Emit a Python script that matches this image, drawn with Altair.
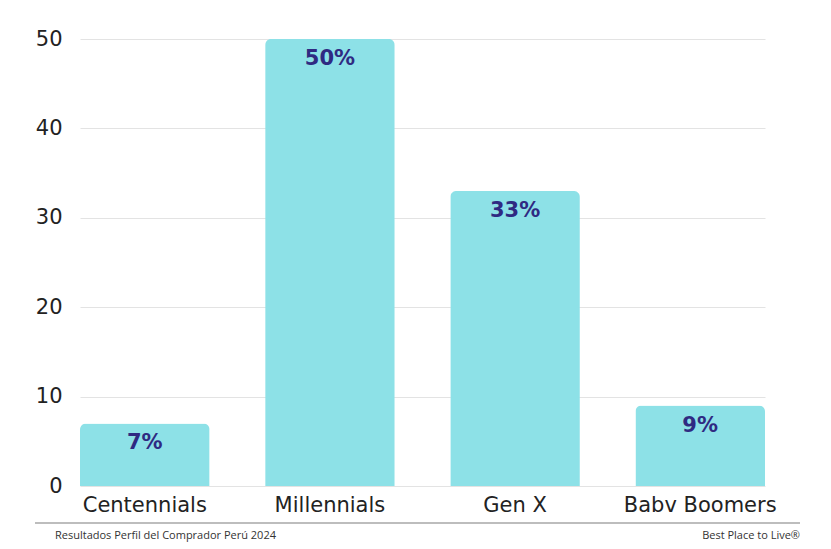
import altair as alt
import pandas as pd

categories = ["Centennials", "Millennials", "Gen X", "Babv Boomers"]
values = [7, 50, 33, 9]
labels = ["7%", "50%", "33%", "9%"]

df = pd.DataFrame({"cat": categories, "val": values, "lab": labels})

FONT = "DejaVu Sans"

x = alt.X("cat:N", sort=categories, title=None,
          scale=alt.Scale(paddingInner=0.3, paddingOuter=0),
          axis=alt.Axis(labelAngle=0, domain=False, ticks=False, labelFontSize=21,
                        labelColor="#222222", labelFont=FONT, labelPadding=8))
y = alt.Y("val:Q", title=None,
          scale=alt.Scale(domain=[0, 50], nice=False),
          axis=alt.Axis(values=[0, 10, 20, 30, 40, 50], domain=False, ticks=False,
                        labelFontSize=21, labelColor="#222222", labelFont=FONT,
                        labelPadding=18, gridColor="#e3e3e3", gridWidth=1))

bars = alt.Chart(df).mark_bar(color="#8de1e7", cornerRadiusTopLeft=6,
                              cornerRadiusTopRight=6).encode(x=x, y=y)

text = alt.Chart(df).mark_text(dy=20, fontSize=21, fontWeight="bold", font=FONT,
                               color="#2f2a82").encode(
    x=alt.X("cat:N", sort=categories), y="val:Q", text="lab:N")

rule = alt.Chart(df).mark_rule(color="#bdbdbd", strokeWidth=2).encode(
    x=alt.value(-45), x2=alt.value(720), y=alt.value(484))

foot_left = alt.Chart(pd.DataFrame({"t": ["Resultados Perfil del Comprador Perú 2024"]})).mark_text(
    align="left", baseline="middle", fontSize=11, font="Open Sans", color="#333333").encode(
    x=alt.value(-25), y=alt.value(497), text="t:N")

foot_right = alt.Chart(pd.DataFrame({"t": ["Best Place to Live®"]})).mark_text(
    align="right", baseline="middle", fontSize=11, font="Open Sans", color="#333333").encode(
    x=alt.value(720), y=alt.value(497), text="t:N")

chart = alt.layer(bars, text, rule, foot_left, foot_right).properties(
    width=685, height=447,
    background="white",
    autosize=alt.AutoSizeParams(type="none"),
    padding={"left": 72, "top": 31, "right": 58, "bottom": 60},
).configure_view(stroke=None)

chart.save("out.html", embed_options={"renderer": "svg", "actions": False})
